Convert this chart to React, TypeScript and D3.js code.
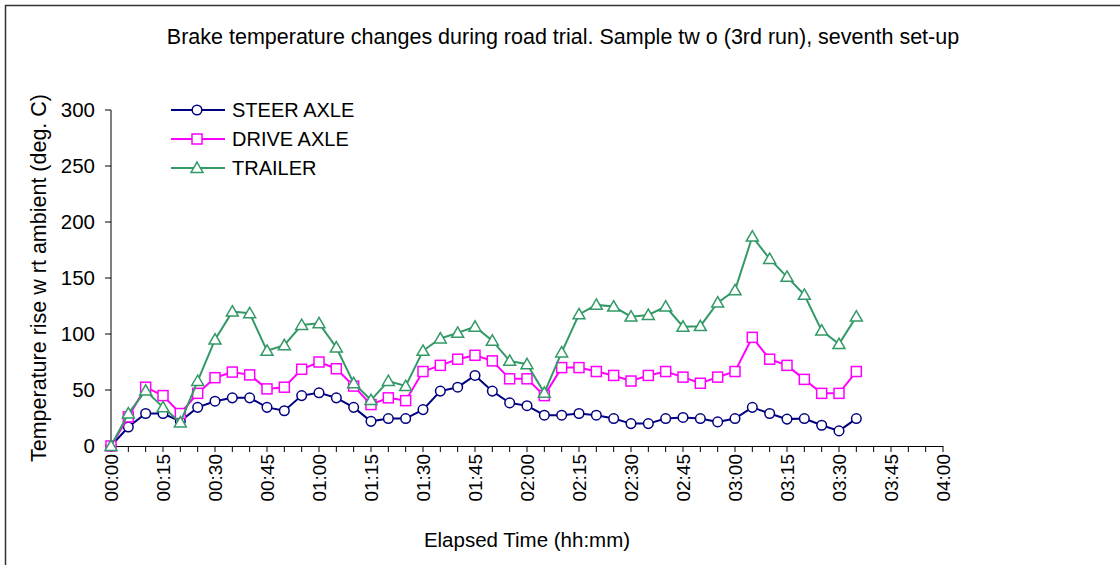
import React from "react";
import * as d3 from "d3";

// elapsed minutes for each reading (every 5 min, 00:00 .. 03:35)
const minutes = d3.range(0, 220, 5);

const steer = [
  0, 17, 29, 29, 22, 34.5, 40, 43, 43, 34.5, 31.5, 45, 47.5, 43, 34.5, 22, 24.5,
  24.5, 32.5, 49, 52.5, 63, 49, 38.5, 36, 27.5, 27.5, 29, 27.5, 24.5, 20, 20, 24.5,
  25.5, 24.5, 21.5, 24.5, 34.5, 29, 24, 24.5, 18.5, 13.5, 24.5,
];
const drive = [
  0, 26, 52.5, 45, 29, 47, 61, 66, 63.5, 51, 52.5, 68.5, 75, 69, 53.5, 37, 43,
  40.5, 66.5, 72, 77.5, 81, 76, 60, 60, 45, 70, 70, 66.5, 63, 58, 63, 66.5,
  61.5, 56, 61.5, 66.5, 97, 77.5, 72, 59.5, 47, 47, 66.5,
];
const trailer = [
  0, 29, 49.5, 34.5, 21, 58, 95, 120, 118.5, 85, 90, 108, 109.5, 88, 56, 41, 58,
  53.5, 85, 96, 101, 106.5, 94, 76, 73, 47.5, 83.5, 117.5, 126, 124.5, 115.5, 117, 124.5,
  106.5, 107, 128, 139, 187, 167, 151, 135, 103, 91, 115.5,
];

const seriesNames = ["STEER AXLE", "DRIVE AXLE", "TRAILER"];
const seriesColors = ["#000080", "#ff00ff", "#339966"];
const seriesShapes = ["circle", "square", "triangle"];
const seriesValues = [steer, drive, trailer];

const yTicks = [0, 50, 100, 150, 200, 250, 300];
const xLabelTicks = d3.range(0, 255, 15);
const xMinorTicks = d3.range(0, 245, 5);

const title = "Brake temperature changes during road trial. Sample tw o (3rd run), seventh set-up";
const xTitle = "Elapsed Time (hh:mm)";
const yTitle = "Temperature rise w rt ambient (deg. C)";

const W = 1120;
const H = 565;
const font = "'Liberation Sans', Arial, sans-serif";

const fmt = (m: number) =>
  `${String(Math.floor(m / 60)).padStart(2, "0")}:${String(m % 60).padStart(2, "0")}`;

function Marker({ shape, x, y, color }: { shape: string; x: number; y: number; color: string }) {
  if (shape === "circle")
    return <circle cx={x} cy={y} r={4.8} fill="#fff" stroke={color} strokeWidth={1.5} />;
  if (shape === "square")
    return <rect x={x - 5} y={y - 5} width={10} height={10} fill="#fff" stroke={color} strokeWidth={1.5} />;
  const tri = d3.symbol().type(d3.symbolTriangle).size(62)();
  return <path d={tri ?? ""} transform={`translate(${x},${y + 1})`} fill="#fff" stroke={color} strokeWidth={1.5} />;
}

export default function App() {
  const x = d3.scaleLinear().domain([0, 240]).range([111, 943]);
  const y = d3.scaleLinear().domain([0, 300]).range([446, 110]);

  const line = d3
    .line<number>()
    .x((_, i) => x(minutes[i]))
    .y((d) => y(d));

  return (
    <svg
      width={W}
      height={H}
      style={{ position: "absolute", left: 0, top: 0, background: "#fff", fontFamily: font }}
    >
      {/* frame */}
      <line x1={5} y1={5.5} x2={W} y2={5.5} stroke="#333" strokeWidth={1.5} />
      <line x1={5.5} y1={5} x2={5.5} y2={H} stroke="#333" strokeWidth={1.5} />

      <text x={563} y={44} textAnchor="middle" fontSize={21.5} fill="#000">
        {title}
      </text>

      {/* y axis */}
      <line x1={111} y1={y(300)} x2={111} y2={y(0)} stroke="#000" />
      {yTicks.map((t) => (
        <g key={t}>
          <line x1={105} x2={111} y1={y(t)} y2={y(t)} stroke="#000" />
          <text x={95} y={y(t)} dy="0.35em" textAnchor="end" fontSize={20.5}>
            {t}
          </text>
        </g>
      ))}
      <text
        transform={`translate(46,${(y(0) + y(300)) / 2}) rotate(-90)`}
        textAnchor="middle"
        fontSize={21.5}
      >
        {yTitle}
      </text>

      {/* x axis */}
      <line x1={x(0)} x2={x(240)} y1={y(0) + 0.5} y2={y(0) + 0.5} stroke="#000" />
      {xMinorTicks.map((t) => (
        <line key={t} x1={x(t)} x2={x(t)} y1={y(0)} y2={y(0) + 6} stroke="#000" />
      ))}
      {xLabelTicks.map((t) => (
        <text
          key={t}
          transform={`translate(${x(t)},${y(0) + 8}) rotate(-90)`}
          textAnchor="end"
          dy="0.35em"
          fontSize={19}
        >
          {fmt(t)}
        </text>
      ))}
      <text x={527} y={547} textAnchor="middle" fontSize={20.5}>
        {xTitle}
      </text>

      {/* series */}
      {seriesValues.map((vals, s) => (
        <g key={seriesNames[s]}>
          <path d={line(vals) ?? ""} fill="none" stroke={seriesColors[s]} strokeWidth={2} />
          {vals.map((v, i) => (
            <Marker key={i} shape={seriesShapes[s]} x={x(minutes[i])} y={y(v)} color={seriesColors[s]} />
          ))}
        </g>
      ))}

      {/* legend */}
      {seriesNames.map((name, s) => {
        const ly = 110 + s * 29;
        return (
          <g key={name}>
            <line x1={171} x2={225} y1={ly} y2={ly} stroke={seriesColors[s]} strokeWidth={2} />
            <Marker shape={seriesShapes[s]} x={197} y={ly} color={seriesColors[s]} />
            <text x={232} y={ly} dy="0.35em" fontSize={20}>
              {name}
            </text>
          </g>
        );
      })}
    </svg>
  );
}
